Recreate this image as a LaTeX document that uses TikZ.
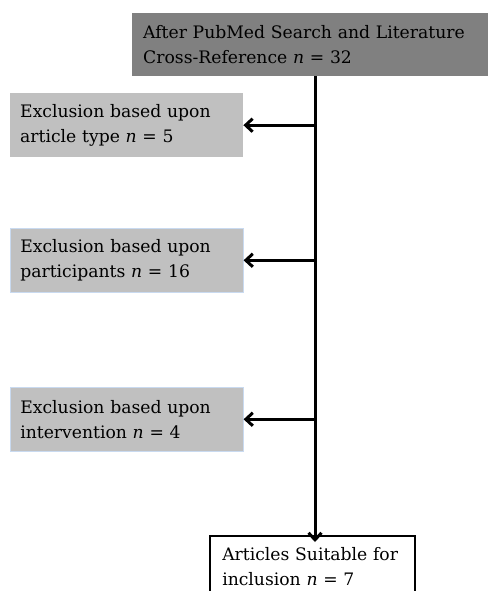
\documentclass[tikz,border=0pt]{standalone}
\usepackage{fontspec}
\setmainfont{DejaVu Serif}
\usetikzlibrary{arrows.meta}
\definecolor{darkbox}{HTML}{808080}
\definecolor{lightbox}{HTML}{C0C0C0}
\definecolor{edgeblue}{HTML}{C9DAF0}
\tikzset{
  box/.style={anchor=north west, align=left, font=\fontsize{17.2}{25}\selectfont},
  exclbox/.style={box, fill=lightbox, inner xsep=10pt, text width=213pt, minimum height=64pt},
  flow/.style={line width=3pt},
  flowarrow/.style={flow, -{Straight Barb[length=7pt,width=13pt,line width=3pt]}}
}
\begin{document}
\begin{tikzpicture}[x=1pt,y=-1pt]
  \useasboundingbox (0,0) rectangle (487,591);
  \node [box, fill=darkbox, inner xsep=11pt, text width=360pt, minimum height=63pt] (top) at (132,13)
    {After PubMed Search and Literature\\Cross-Reference \textit{n} = 32};
  \node [exclbox] (excl1) at (10,93) {Exclusion based upon\\article type \textit{n} = 5};
  \node [exclbox, draw=edgeblue, line width=0.6pt] (excl2) at (10,228) {Exclusion based upon\\participants \textit{n} = 16};
  \node [exclbox, draw=edgeblue, line width=0.6pt] (excl3) at (10,387) {Exclusion based upon\\intervention \textit{n} = 4};
  \node [box, draw, line width=1.5pt, fill=white, inner xsep=12.5pt, inner ysep=12pt, text width=180pt] (final) at (209,535)
    {Articles Suitable for\\inclusion \textit{n} = 7};
  \coordinate (trunk) at (315,76);
  \draw [flowarrow] (trunk) -- ([yshift=-7pt]trunk |- final.north);
  \foreach \b in {excl1,excl2,excl3}
    \draw [flowarrow] (trunk |- \b.east) -- (\b.east);
\end{tikzpicture}
\end{document}
